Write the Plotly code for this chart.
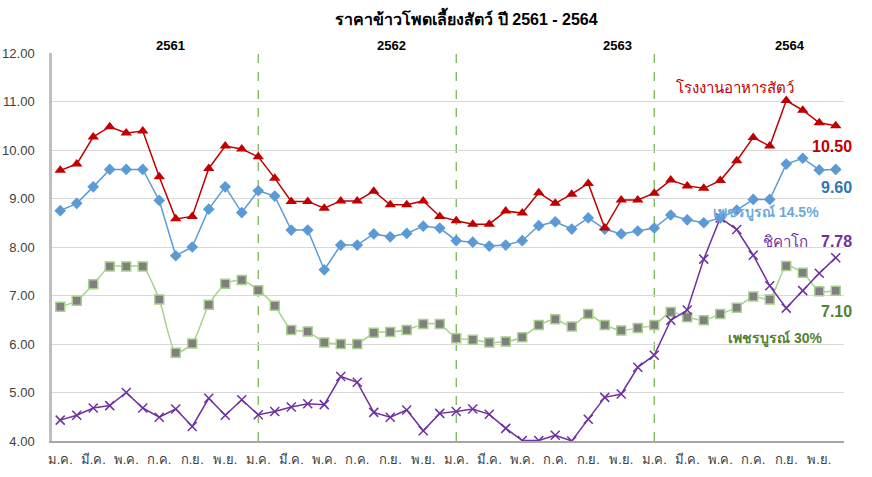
import plotly.graph_objects as go

months = ["ม.ค.", "ก.พ.", "มี.ค.", "เม.ย.", "พ.ค.", "มิ.ย.", "ก.ค.", "ส.ค.", "ก.ย.", "ต.ค.", "พ.ย.", "ธ.ค."]
years = ["2561", "2562", "2563", "2564"]

feed_mill = [9.58, 9.71, 10.27, 10.48, 10.35, 10.39, 9.45, 8.58, 8.63, 9.62, 10.08, 10.02,
             9.86, 9.42, 8.94, 8.94, 8.80, 8.95, 8.95, 9.15, 8.87, 8.87, 8.95, 8.63,
             8.54, 8.47, 8.47, 8.74, 8.70, 9.12, 8.90, 9.09, 9.31, 8.39, 8.97, 8.97,
             9.11, 9.38, 9.26, 9.21, 9.37, 9.78, 10.26, 10.08, 11.02, 10.82, 10.56, 10.50]
phet_145 = [8.75, 8.90, 9.24, 9.60, 9.60, 9.60, 8.96, 7.82, 8.00, 8.78, 9.24, 8.71,
            9.16, 9.05, 8.35, 8.35, 7.53, 8.04, 8.04, 8.27, 8.21, 8.28, 8.43, 8.39,
            8.13, 8.10, 8.02, 8.04, 8.13, 8.44, 8.52, 8.37, 8.60, 8.37, 8.27, 8.33,
            8.39, 8.66, 8.56, 8.50, 8.60, 8.76, 8.98, 8.98, 9.71, 9.83, 9.59, 9.60]
phet_30 = [6.77, 6.89, 7.23, 7.60, 7.60, 7.60, 6.92, 5.82, 6.01, 6.81, 7.24, 7.32,
           7.11, 6.79, 6.29, 6.26, 6.03, 6.00, 6.00, 6.23, 6.25, 6.29, 6.41, 6.41,
           6.12, 6.09, 6.03, 6.05, 6.14, 6.39, 6.51, 6.36, 6.62, 6.39, 6.28, 6.33,
           6.39, 6.66, 6.55, 6.49, 6.62, 6.75, 6.98, 6.92, 7.61, 7.47, 7.09, 7.10]
chicago = [4.43, 4.53, 4.68, 4.73, 5.00, 4.68, 4.49, 4.66, 4.30, 4.88, 4.53, 4.85,
           4.54, 4.61, 4.70, 4.77, 4.75, 5.33, 5.21, 4.59, 4.49, 4.64, 4.21, 4.57,
           4.61, 4.66, 4.55, 4.26, 4.01, 4.01, 4.12, 4.00, 4.45, 4.90, 4.97, 5.52,
           5.77, 6.49, 6.70, 7.75, 8.60, 8.36, 7.83, 7.20, 6.74, 7.10, 7.46, 7.78]

x = list(range(len(feed_mill)))
tick_vals = [i for i in x if i % 2 == 0]
tick_text = [months[i % 12] for i in tick_vals]

FONT = "Liberation Sans, Arial, Tahoma, sans-serif"

fig = go.Figure()
fig.add_trace(go.Scatter(x=x, y=phet_30, mode="lines+markers", name="เพชรบูรณ์ 30%",
                         line=dict(color="#A9D18E", width=1.5, shape="spline", smoothing=0.6),
                         marker=dict(symbol="square", size=9, color="#7F7F7F",
                                     line=dict(color="#A9D18E", width=1.5))))
fig.add_trace(go.Scatter(x=x, y=chicago, mode="lines+markers", name="ชิคาโก",
                         line=dict(color="#7030A0", width=1.5),
                         marker=dict(symbol="x-thin", size=9, color="#7030A0",
                                     line=dict(color="#7030A0", width=1.5))))
fig.add_trace(go.Scatter(x=x, y=phet_145, mode="lines+markers", name="เพชรบูรณ์ 14.5%",
                         line=dict(color="#5B9BD5", width=1.5),
                         marker=dict(symbol="diamond", size=9, color="#5B9BD5")))
fig.add_trace(go.Scatter(x=x, y=feed_mill, mode="lines+markers", name="โรงงานอาหารสัตว์",
                         line=dict(color="#C00000", width=1.5),
                         marker=dict(symbol="triangle-up", size=10, color="#C00000")))

for i in (12, 24, 36):
    fig.add_shape(type="line", x0=i, x1=i, y0=4, y1=12, xref="x", yref="y",
                  line=dict(color="#70AD47", width=1.2, dash="dash"), layer="below")

year_pos = [6.7, 20.1, 33.8, 44.2]
for yr, xp in zip(years, year_pos):
    fig.add_annotation(x=xp, y=1.02, xref="x", yref="paper", text="<b>" + yr + "</b>",
                       showarrow=False, yanchor="middle",
                       font=dict(size=13, color="black", family=FONT))

# x positions in paper units (plot spans 52..844 px)
ann = [
    dict(x=0.863, y=11.28, text="โรงงานอาหารสัตว์", color="#C00000", size=15, xanchor="center"),
    dict(x=1.012, y=10.08, text="<b>10.50</b>", color="#C00000", size=16, xanchor="right"),
    dict(x=1.012, y=9.22, text="<b>9.60</b>", color="#2E75B6", size=16, xanchor="right"),
    dict(x=0.902, y=8.72, text="<b>เพชรบูรณ์ 14.5%</b>", color="#6FA8DC", size=14, xanchor="center"),
    dict(x=0.957, y=8.12, text="ชิคาโก", color="#7030A0", size=15, xanchor="right"),
    dict(x=1.012, y=8.12, text="<b>7.78</b>", color="#7030A0", size=16, xanchor="right"),
    dict(x=1.012, y=6.68, text="<b>7.10</b>", color="#548235", size=16, xanchor="right"),
    dict(x=0.913, y=6.12, text="<b>เพชรบูรณ์ 30%</b>", color="#548235", size=14, xanchor="center"),
]
for a in ann:
    fig.add_annotation(x=a["x"], y=a["y"], xref="paper", yref="y", text=a["text"],
                       showarrow=False, xanchor=a["xanchor"], yanchor="middle",
                       font=dict(size=a["size"], color=a["color"], family=FONT))

fig.update_layout(
    width=872, height=477,
    margin=dict(l=52, r=28, t=53, b=36, autoexpand=False),
    paper_bgcolor="white", plot_bgcolor="white",
    showlegend=False,
    title=dict(text="<b>ราคาข้าวโพดเลี้ยงสัตว์ ปี 2561 - 2564</b>", x=0.535, xanchor="center",
               y=0.96, yanchor="middle", font=dict(size=16, color="black", family=FONT)),
    font=dict(family=FONT),
)
fig.update_xaxes(range=[-0.5, 47.5], tickmode="array", tickvals=tick_vals, ticktext=tick_text,
                 showgrid=False, showline=True, linecolor="#A6A6A6", linewidth=1.5,
                 ticks="", tickfont=dict(size=13, color="#404040"), zeroline=False,
                 automargin=False, ticklabelstandoff=6)
fig.update_yaxes(range=[4, 12], dtick=1, tickformat=".2f", showgrid=True, gridcolor="#D9D9D9",
                 gridwidth=1.2, showline=True, linecolor="#BFBFBF", linewidth=2.5, ticks="",
                 tickfont=dict(size=13, color="#404040"), zeroline=False,
                 automargin=False, ticklabelstandoff=12)

fig.write_html("out.html", config={"displayModeBar": False},
               post_script="document.body.style.margin='0px';")
